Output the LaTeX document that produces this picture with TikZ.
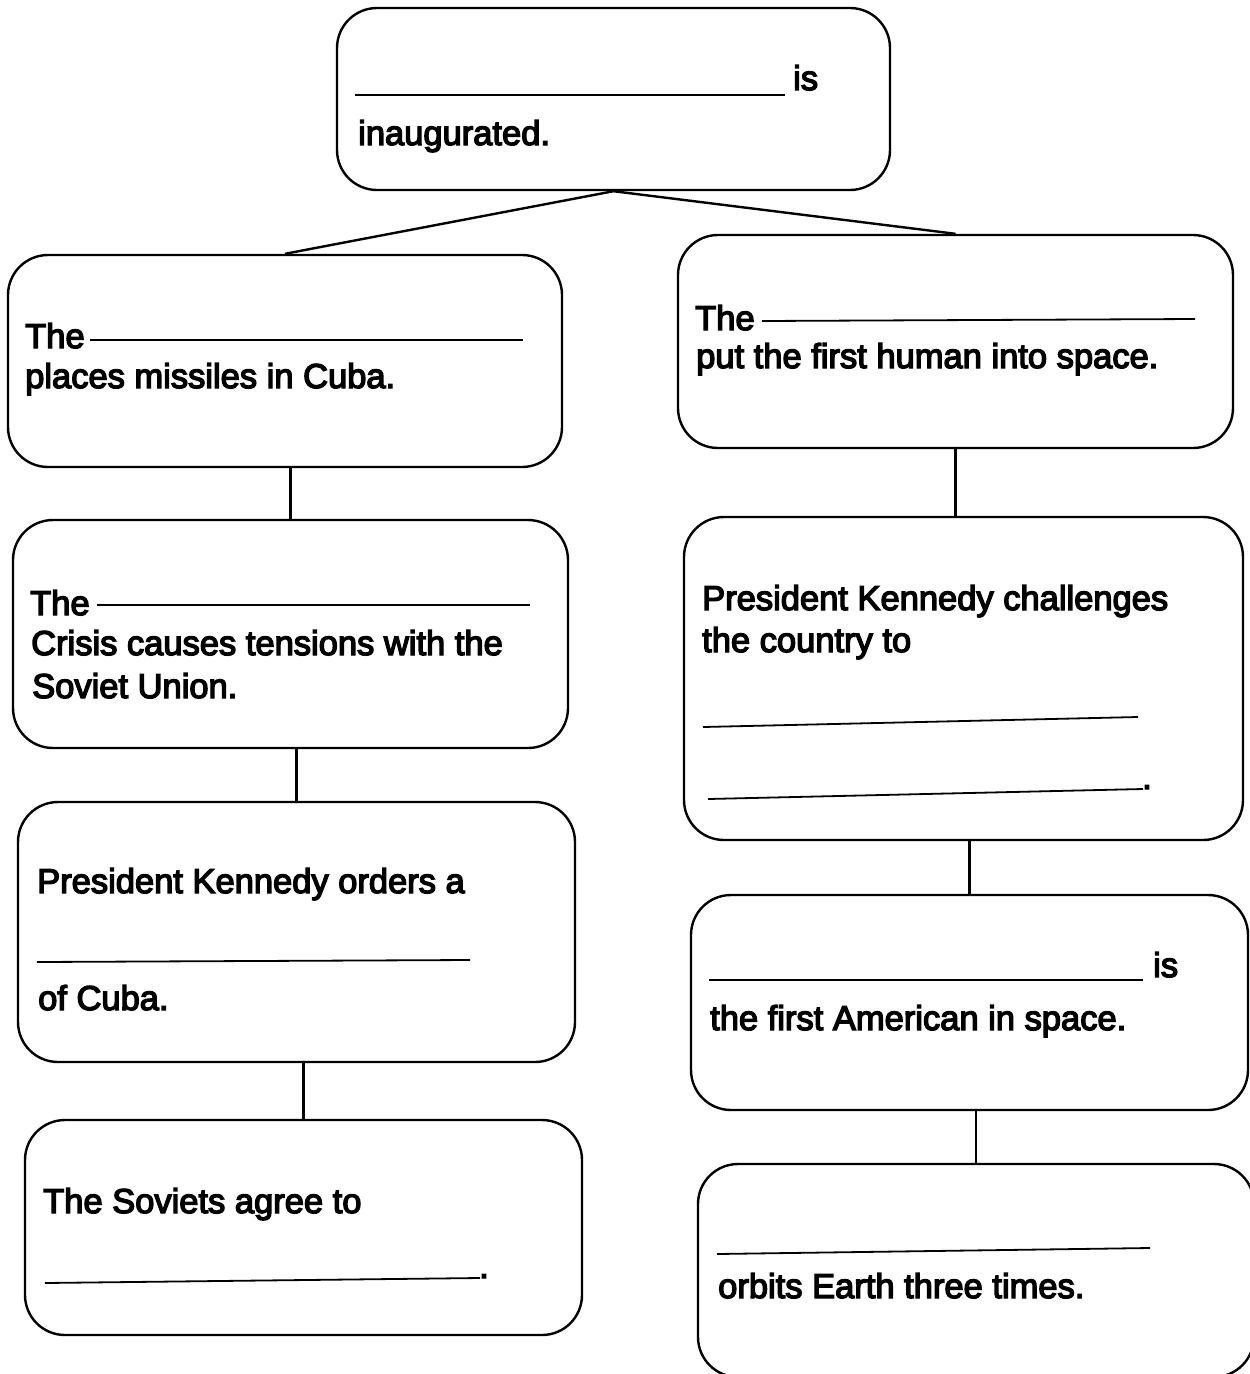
\documentclass[tikz,border=0pt]{standalone}
\usepackage{fontspec}
\setmainfont{Liberation Sans}[FakeBold=4]
\begin{document}
\begin{tikzpicture}[x=1pt,y=-1pt,
  box/.style={draw, rounded corners=40pt, line width=2.4pt, inner sep=0pt},
  txt/.style={anchor=base west, inner sep=0pt, font=\fontsize{34.5}{40}\selectfont},
  blank/.style={line width=1.8pt},
  conn/.style={line width=2.4pt}]
\useasboundingbox (0,0) rectangle (1250,1374);
% boxes
\node[box, minimum width=553pt, minimum height=182pt] (top) at (613.5,99) {};
\node[box, minimum width=554pt, minimum height=212pt] (l1) at (285,361) {};
\node[box, minimum width=555pt, minimum height=213pt] (r1) at (955.5,341.5) {};
\node[box, minimum width=555pt, minimum height=228pt] (l2) at (290.5,634) {};
\node[box, minimum width=559pt, minimum height=323pt] (r2) at (963.5,678.5) {};
\node[box, minimum width=557pt, minimum height=260pt] (l3) at (296.5,932) {};
\node[box, minimum width=557pt, minimum height=215pt] (r3) at (969.5,1002.5) {};
\node[box, minimum width=557pt, minimum height=215pt] (l4) at (303.5,1227.5) {};
\node[box, minimum width=556pt, minimum height=213pt] (r4) at (976,1270.5) {};
% connectors
\draw[conn] (top.south) -- (l1.north);
\draw[conn] (top.south) -- (r1.north);
\draw[conn] (l2.north |- l1.south) -- (l2.north);
\draw[conn] (l3.north |- l2.south) -- (l3.north);
\draw[conn] (l4.north |- l3.south) -- (l4.north);
\draw[conn] (r1.south) -- (r1.south |- r2.north);
\draw[conn] (r3.north |- r2.south) -- (r3.north);
\draw[conn] (r4.north |- r3.south) -- (r4.north);
% top box
\draw[blank] (355,95) -- (785,95);
\node[txt] (t1) at (793,90) {is};
\node[txt] (t2) at (358,145) {inaugurated.};
% left 1
\node[txt] (a1) at (25,348) {The};
\draw[blank] (90,340) -- (523,340);
\node[txt] (a2) at (25,388) {places missiles in Cuba.};
% right 1
\node[txt] (b1) at (695,330) {The};
\draw[blank] (762,321) -- (1195,319);
\node[txt] (b2) at (696,368) {put the first human into space.};
% left 2
\node[txt] (c1) at (30,615) {The};
\draw[blank] (97,605) -- (530,605);
\node[txt] (c2) at (31,655) {Crisis causes tensions with the};
\node[txt] (c3) at (32,698) {Soviet Union.};
% right 2
\node[txt] (d1) at (702,610) {President Kennedy challenges};
\node[txt] (d2) at (702,652) {the country to};
\draw[blank] (703,727) -- (1138,717);
\draw[blank] (708,799) -- (1143,789);
\node[txt] (d3) at (1142,789) {.};
% left 3
\node[txt] (e1) at (37,893) {President Kennedy orders a};
\draw[blank] (37,962) -- (470,960);
\node[txt] (e2) at (38,1010) {of Cuba.};
% right 3
\draw[blank] (709,980) -- (1143,980);
\node[txt] (f1) at (1153,977) {is};
\node[txt] (f2) at (710,1030) {the first American in space.};
% left 4
\node[txt] (g1) at (43,1213) {The Soviets agree to};
\draw[blank] (45,1283) -- (480,1278);
\node[txt] (g2) at (479,1278) {.};
% right 4
\draw[blank] (717,1254) -- (1150,1248);
\node[txt] (h1) at (718,1298) {orbits Earth three times.};
\end{tikzpicture}
\end{document}
